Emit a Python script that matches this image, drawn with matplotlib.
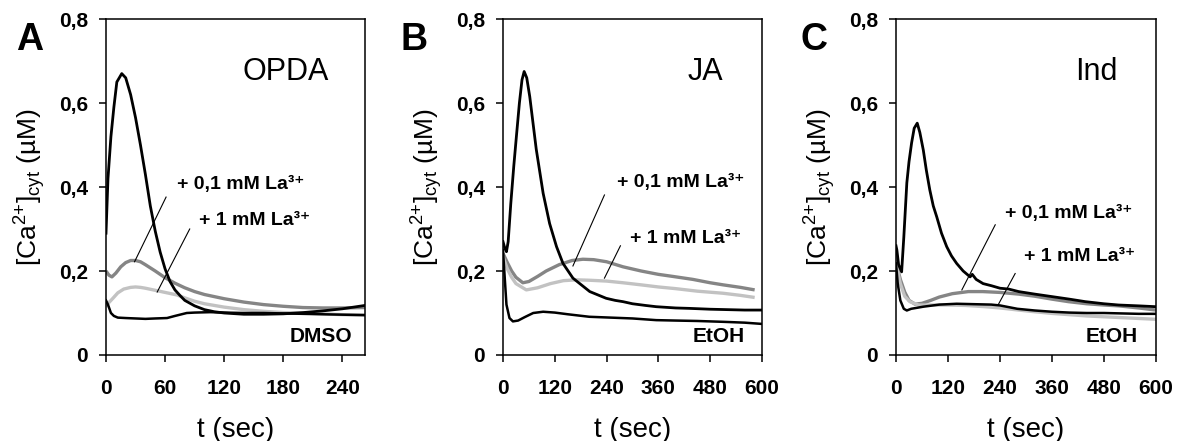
import matplotlib
matplotlib.use("Agg")
import matplotlib.pyplot as plt

plt.rcParams['font.family'] = ['Liberation Sans', 'DejaVu Sans']
plt.rcParams['mathtext.fontset'] = 'custom'
plt.rcParams['mathtext.rm'] = 'Liberation Sans'
plt.rcParams['mathtext.bf'] = 'Liberation Sans:bold'
plt.rcParams['mathtext.it'] = 'Liberation Sans:italic'

# ---- panel A (OPDA / DMSO), time in sec, [Ca2+] in uM ----
a_main_t = [0, 2, 5, 8, 11, 16, 20, 25, 30, 35, 40, 45, 50, 55, 60, 65, 70, 75, 80, 90,
            100, 110, 120, 140, 160, 180, 200, 220, 240, 263]
a_main_v = [0.29, 0.42, 0.52, 0.59, 0.65, 0.67, 0.66, 0.62, 0.565, 0.50, 0.43, 0.355, 0.295,
            0.245, 0.205, 0.175, 0.155, 0.142, 0.13, 0.117, 0.108, 0.103, 0.10, 0.097,
            0.097, 0.098, 0.101, 0.105, 0.11, 0.118]
a_ctrl_t = [0, 2, 5, 8, 12, 20, 30, 40, 50, 62, 70, 82, 90, 106, 120, 140, 160, 180, 200,
            220, 240, 263]
a_ctrl_v = [0.13, 0.12, 0.10, 0.093, 0.089, 0.088, 0.087, 0.086, 0.087, 0.088, 0.093, 0.10,
            0.101, 0.102, 0.101, 0.10, 0.10, 0.099, 0.098, 0.097, 0.096, 0.095]
a_la01_t = [0, 3, 6, 10, 15, 20, 25, 30, 35, 40, 50, 60, 70, 80, 90, 100, 120, 140, 160,
            180, 200, 220, 240, 263]
a_la01_v = [0.20, 0.19, 0.186, 0.195, 0.21, 0.22, 0.225, 0.225, 0.222, 0.215, 0.20, 0.184,
            0.171, 0.16, 0.151, 0.144, 0.134, 0.126, 0.12, 0.116, 0.113, 0.112, 0.112, 0.113]
a_la1_t = [0, 3, 7, 12, 18, 25, 30, 35, 40, 50, 60, 72, 80, 90, 100, 120, 140, 160, 180,
           200, 220, 240, 263]
a_la1_v = [0.115, 0.125, 0.135, 0.148, 0.157, 0.161, 0.162, 0.161, 0.159, 0.154, 0.149,
           0.143, 0.136, 0.128, 0.122, 0.114, 0.108, 0.104, 0.101, 0.10, 0.098, 0.096, 0.095]

# ---- panel B (JA / EtOH) ----
b_main_t = [0, 4, 8, 12, 18, 25, 31, 38, 44, 49, 55, 62, 77, 93, 108, 124, 139, 162, 201,
            239, 260, 278, 300, 330, 355, 400, 432, 480, 520, 560, 600]
b_main_v = [0.27, 0.255, 0.246, 0.27, 0.36, 0.45, 0.52, 0.60, 0.655, 0.675, 0.66, 0.615,
            0.49, 0.385, 0.313, 0.258, 0.218, 0.183, 0.151, 0.135, 0.13, 0.127, 0.122,
            0.118, 0.115, 0.112, 0.111, 0.109, 0.108, 0.107, 0.107]
b_ctrl_t = [0, 3, 8, 15, 23, 35, 50, 70, 93, 120, 150, 200, 250, 300, 355, 400, 450, 510,
            560, 600]
b_ctrl_v = [0.25, 0.20, 0.12, 0.088, 0.08, 0.082, 0.09, 0.10, 0.103, 0.101, 0.097, 0.091,
            0.089, 0.087, 0.083, 0.082, 0.081, 0.079, 0.077, 0.074]
b_la01_t = [0, 10, 20, 30, 46, 60, 80, 100, 130, 160, 185, 210, 240, 278, 320, 360, 394,
            440, 480, 510, 550, 583]
b_la01_v = [0.242, 0.22, 0.20, 0.185, 0.172, 0.175, 0.187, 0.20, 0.215, 0.225, 0.228,
            0.227, 0.222, 0.21, 0.20, 0.192, 0.187, 0.18, 0.172, 0.167, 0.161, 0.155]
b_la1_t = [0, 10, 20, 30, 54, 80, 110, 140, 170, 200, 240, 278, 320, 360, 400, 450, 510,
           550, 583]
b_la1_v = [0.234, 0.205, 0.185, 0.17, 0.155, 0.16, 0.17, 0.177, 0.179, 0.178, 0.176, 0.172,
           0.167, 0.162, 0.158, 0.152, 0.147, 0.142, 0.137]

# ---- panel C (Ind / EtOH) ----
c_main_t = [0, 2, 6, 13, 18, 25, 30, 36, 42, 49, 55, 63, 70, 78, 86, 94, 105, 117, 128, 140,
            155, 171, 176, 185, 201, 220, 240, 260, 283, 320, 360, 400, 437, 480, 514, 560, 600]
c_main_v = [0.26, 0.25, 0.215, 0.198, 0.28, 0.41, 0.46, 0.505, 0.54, 0.552, 0.53, 0.488,
            0.44, 0.393, 0.355, 0.329, 0.29, 0.258, 0.236, 0.218, 0.20, 0.186, 0.192, 0.18,
            0.17, 0.165, 0.159, 0.157, 0.151, 0.145, 0.139, 0.133, 0.127, 0.122, 0.119,
            0.117, 0.115]
c_ctrl_t = [0, 4, 10, 18, 25, 35, 63, 100, 140, 180, 220, 240, 280, 320, 360, 400, 440, 480,
            520, 560, 600]
c_ctrl_v = [0.218, 0.17, 0.13, 0.11, 0.106, 0.11, 0.115, 0.12, 0.122, 0.121, 0.12, 0.118,
            0.11, 0.106, 0.103, 0.101, 0.10, 0.10, 0.099, 0.098, 0.098]
c_la01_t = [0, 5, 10, 20, 30, 44, 60, 80, 100, 130, 167, 200, 240, 283, 320, 360, 398, 440,
            480, 514, 560, 600]
c_la01_v = [0.226, 0.20, 0.18, 0.15, 0.13, 0.121, 0.123, 0.13, 0.138, 0.146, 0.151, 0.151,
            0.149, 0.145, 0.14, 0.133, 0.127, 0.122, 0.119, 0.117, 0.112, 0.107]
c_la1_t = [0, 5, 10, 20, 32, 52, 80, 120, 160, 206, 240, 283, 320, 360, 400, 440, 480, 520,
           560, 600]
c_la1_v = [0.226, 0.195, 0.17, 0.14, 0.127, 0.119, 0.119, 0.119, 0.118, 0.115, 0.112,
           0.107, 0.103, 0.099, 0.096, 0.093, 0.091, 0.089, 0.087, 0.085]

y_ticks = [0, 0.2, 0.4, 0.6, 0.8]
y_tick_labels = ['0', '0,2', '0,4', '0,6', '0,8']

panels = [
    dict(letter='A', name='OPDA', ctrl='DMSO', xmax=263, xticks=[0, 60, 120, 180, 240],
         main=(a_main_t, a_main_v), control=(a_ctrl_t, a_ctrl_v),
         la01=(a_la01_t, a_la01_v), la1=(a_la1_t, a_la1_v),
         name_x=226, ctrl_x=250,
         t01=(72, 0.405), l01=((61, 0.376), (29, 0.222)),
         t1=(94, 0.321), l1=((85, 0.30), (52, 0.15)),
         rect=[106 / 1183, 86 / 441, 259 / 1183, 336 / 441], letter_x=30 / 1183),
    dict(letter='B', name='JA', ctrl='EtOH', xmax=600, xticks=[0, 120, 240, 360, 480, 600],
         main=(b_main_t, b_main_v), control=(b_ctrl_t, b_ctrl_v),
         la01=(b_la01_t, b_la01_v), la1=(b_la1_t, b_la1_v),
         name_x=510, ctrl_x=560,
         t01=(264, 0.41), l01=((235, 0.381), (162, 0.212)),
         t1=(294, 0.278), l1=((272, 0.26), (235, 0.183)),
         rect=[503 / 1183, 86 / 441, 259 / 1183, 336 / 441], letter_x=414 / 1183),
    dict(letter='C', name='Ind', ctrl='EtOH', xmax=600, xticks=[0, 120, 240, 360, 480, 600],
         main=(c_main_t, c_main_v), control=(c_ctrl_t, c_ctrl_v),
         la01=(c_la01_t, c_la01_v), la1=(c_la1_t, c_la1_v),
         name_x=512, ctrl_x=558,
         t01=(251, 0.337), l01=((229, 0.31), (152, 0.155)),
         t1=(295, 0.234), l1=((275, 0.194), (236, 0.12)),
         rect=[896 / 1183, 86 / 441, 260 / 1183, 336 / 441], letter_x=814 / 1183),
]

fig = plt.figure(figsize=(11.83, 4.41), dpi=100)

for p in panels:
    ax = fig.add_axes(p['rect'])
    ax.plot(*p['la01'], color='#858585', linewidth=2.4, solid_capstyle='butt')
    ax.plot(*p['la1'], color='#c2c2c2', linewidth=2.4, solid_capstyle='butt')
    ax.plot(*p['control'], color='black', linewidth=1.8)
    ax.plot(*p['main'], color='black', linewidth=2.0)

    (x0, y0), (x1, y1) = p['l01']
    ax.plot([x0, x1], [y0, y1], color='black', linewidth=0.8)
    (x0, y0), (x1, y1) = p['l1']
    ax.plot([x0, x1], [y0, y1], color='black', linewidth=0.8)
    ax.text(p['t01'][0], p['t01'][1], '+ 0,1 mM La³⁺', fontsize=14,
            fontweight='bold', va='center', ha='left')
    ax.text(p['t1'][0], p['t1'][1], '+ 1 mM La³⁺', fontsize=14,
            fontweight='bold', va='center', ha='left')
    ax.text(p['name_x'], 0.675, p['name'], fontsize=22, ha='right', va='center')
    ax.text(p['ctrl_x'], 0.044, p['ctrl'], fontsize=15, fontweight='bold',
            ha='right', va='center')

    ax.set_xlim(0, p['xmax'])
    ax.set_ylim(0, 0.8)
    ax.set_xticks(p['xticks'])
    ax.set_xticklabels([str(t) for t in p['xticks']], fontsize=15, fontweight='bold')
    ax.set_yticks(y_ticks)
    ax.set_yticklabels(y_tick_labels, fontsize=15, fontweight='bold')
    ax.tick_params(axis='y', direction='out', length=5, width=1.1, pad=8)
    ax.tick_params(axis='x', direction='out', length=5, width=1.1, pad=12)
    for s in ax.spines.values():
        s.set_linewidth(1.1)
    ax.set_xlabel('t (sec)', fontsize=20, labelpad=14)
    ax.set_ylabel(r'[Ca$^{2{+}}$]$_{\mathrm{cyt}}$ (µM)', fontsize=19, labelpad=8)

    fig.text(p['letter_x'], 1 - 40 / 441, p['letter'], fontsize=27, fontweight='bold',
             ha='center', va='center')

fig.savefig('out.png', dpi=100)
